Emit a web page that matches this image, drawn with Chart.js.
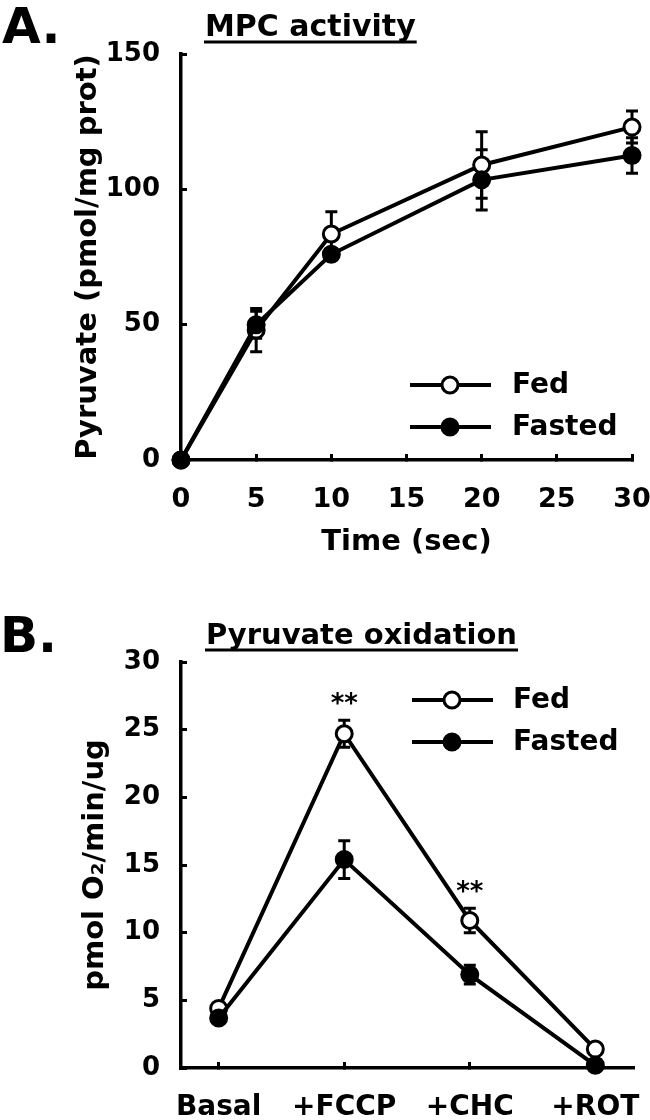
<!DOCTYPE html>
<html>
<head>
<meta charset="utf-8">
<script src="https://cdn.jsdelivr.net/npm/chart.js@4.4.1/dist/chart.umd.min.js"></script>
<style>
  html, body { margin: 0; padding: 0; background: #fff; }
  #wrap { position: relative; width: 650px; height: 1120px; overflow: hidden; background: #fff; }
  canvas { position: absolute; left: 0; display: block; }
  #cA { top: 0; }
  #cB { top: 560px; }
</style>
</head>
<body>
<div id="wrap">
  <canvas id="cA" width="650" height="560"></canvas>
  <canvas id="cB" width="650" height="560"></canvas>
</div>
<script>
// ---------- Panel A data: MPC activity ----------
const timeSec = [0, 5, 10, 20, 30];
const fedMPC = [0, 48, 83.5, 109, 123];
const fedMPCErr = [0, 8, 8.2, 12.3, 5.9];
const fastedMPC = [0, 50, 76, 103.5, 112.5];
const fastedMPCErr = [0, 5, 2, 11.1, 6.6];
const mpcYTicks = [0, 50, 100, 150];
const mpcXTicks = [0, 5, 10, 15, 20, 25, 30];

// ---------- Panel B data: Pyruvate oxidation ----------
const oxCategories = ['Basal', '+FCCP', '+CHC', '+ROT'];
const fedOx = [4.4, 24.7, 10.9, 1.4];
const fedOxErr = [0.3, 1.0, 0.9, 0.2];
const fastedOx = [3.7, 15.4, 6.9, 0.2];
const fastedOxErr = [0.3, 1.4, 0.7, 0.1];
const oxYTicks = [0, 5, 10, 15, 20, 25, 30];
const oxSignificant = [1, 2]; // indices marked "**"

const seriesLabels = ['Fed', 'Fasted'];

const FONT = "'DejaVu Sans', 'Liberation Sans', sans-serif";
Chart.defaults.font.family = FONT;
Chart.defaults.font.weight = 'bold';
Chart.defaults.color = '#000';

function pts(xs, ys) { return xs.map((x, i) => ({ x: x, y: ys[i] })); }

function dataset(label, xs, ys, filled, order) {
  return {
    label: label,
    data: pts(xs, ys),
    borderColor: '#000',
    borderWidth: 4,
    pointRadius: 8,
    pointBorderWidth: 3,
    pointBorderColor: '#000',
    pointBackgroundColor: filled ? '#000' : '#fff',
    fill: false,
    tension: 0,
    order: order,
    clip: false
  };
}

function makePlugin(p) {
  return {
    id: 'panel' + p.letter,
    beforeDatasetsDraw(chart) {
      const ctx = chart.ctx, x = chart.scales.x, y = chart.scales.y;
      ctx.save();
      ctx.strokeStyle = '#000';
      ctx.lineWidth = 3;
      p.errors.forEach(s => {
        s.values.forEach((v, i) => {
          const e = s.err[i];
          if (!e) return;
          const px = x.getPixelForValue(p.xs[i]);
          const t = y.getPixelForValue(v + e), b = y.getPixelForValue(v - e);
          ctx.beginPath();
          ctx.moveTo(px, t); ctx.lineTo(px, b);
          ctx.moveTo(px - 6, t); ctx.lineTo(px + 6, t);
          ctx.moveTo(px - 6, b); ctx.lineTo(px + 6, b);
          ctx.stroke();
        });
      });
      ctx.restore();
    },
    afterDraw(chart) {
      const ctx = chart.ctx, x = chart.scales.x, y = chart.scales.y;
      ctx.save();
      ctx.fillStyle = '#000';
      ctx.strokeStyle = '#000';
      // panel letter
      ctx.font = 'bold 50px ' + FONT;
      ctx.textAlign = 'left';
      ctx.textBaseline = 'alphabetic';
      ctx.fillText(p.letter + '.', p.letterX, p.letterY);
      // title with underline
      ctx.font = 'bold ' + p.titleSize + 'px ' + FONT;
      ctx.fillText(p.title, p.titleX, p.titleY);
      const w = ctx.measureText(p.title).width;
      ctx.lineWidth = 3;
      ctx.beginPath();
      ctx.moveTo(p.titleX - 1, p.titleY + 6);
      ctx.lineTo(p.titleX + w + 1, p.titleY + 6);
      ctx.stroke();
      // legend
      const L = p.legend;
      L.rows.forEach((ry, i) => {
        const ds = chart.data.datasets[i];
        ctx.lineWidth = 4;
        ctx.beginPath();
        ctx.moveTo(L.x1, ry); ctx.lineTo(L.x2, ry);
        ctx.stroke();
        ctx.beginPath();
        ctx.arc(L.mx, ry, 8, 0, Math.PI * 2);
        ctx.fillStyle = ds.pointBackgroundColor;
        ctx.fill();
        ctx.lineWidth = 3;
        ctx.stroke();
        ctx.fillStyle = '#000';
        ctx.font = 'bold 28px ' + FONT;
        ctx.textBaseline = 'middle';
        ctx.fillText(ds.label, L.tx, ry + 1);
      });
      // significance stars
      if (p.stars) {
        ctx.font = 'bold 26px ' + FONT;
        ctx.textAlign = 'center';
        ctx.textBaseline = 'alphabetic';
        p.stars.forEach(i => {
          const px = x.getPixelForValue(p.xs[i]);
          const top = y.getPixelForValue(p.errors[0].values[i] + p.errors[0].err[i]);
          ctx.fillText('**', px, top - 23 + 15);
        });
      }
      ctx.restore();
    }
  };
}

function axisCommon() {
  return {
    grid: { drawOnChartArea: false, drawTicks: true, tickLength: -6, lineWidth: 3, color: '#000' },
    border: { display: true, color: '#000', width: 3.5 }
  };
}

// ---------- Chart A ----------
new Chart(document.getElementById('cA'), {
  type: 'line',
  data: {
    datasets: [
      dataset(seriesLabels[0], timeSec, fedMPC, false, 2),
      dataset(seriesLabels[1], timeSec, fastedMPC, true, 1)
    ]
  },
  options: {
    responsive: false, animation: false, events: [], devicePixelRatio: 1,
    layout: { padding: { left: 0, top: 54, right: 18, bottom: 0 } },
    scales: {
      x: Object.assign(axisCommon(), {
        type: 'linear', min: 0, max: 30,
        afterBuildTicks(s) { s.ticks = mpcXTicks.map(v => ({ value: v })); },
        afterFit(s) { s.height = 100; s.paddingLeft = 0; s.paddingRight = 0; },
        ticks: { padding: 30, font: { size: 27, weight: 'bold' }, color: '#000', maxRotation: 0, autoSkip: false },
        title: { display: true, text: 'Time (sec)', color: '#000', font: { size: 29, weight: 'bold' }, padding: { top: 0, bottom: 0 } }
      }),
      y: Object.assign(axisCommon(), {
        type: 'linear', min: 0, max: 150,
        afterBuildTicks(s) { s.ticks = mpcYTicks.map(v => ({ value: v })); },
        afterFit(s) { s.width = 181; s.paddingTop = 0; s.paddingBottom = 0; },
        ticks: { padding: 27, font: { size: 26, weight: 'bold' }, color: '#000' },
        title: { display: true, text: 'Pyruvate (pmol/mg prot)', color: '#000', font: { size: 29, weight: 'bold' }, padding: { top: 71.5, bottom: 0 } }
      })
    },
    plugins: { legend: { display: false }, tooltip: { enabled: false } }
  },
  plugins: [makePlugin({
    letter: 'A', letterX: 2, letterY: 43,
    title: 'MPC activity', titleSize: 30, titleX: 205, titleY: 36,
    xs: timeSec,
    errors: [{ values: fedMPC, err: fedMPCErr }, { values: fastedMPC, err: fastedMPCErr }],
    legend: { x1: 410, x2: 491, mx: 450, tx: 512, rows: [385, 427] }
  })]
});

// ---------- Chart B ----------
const oxIdx = oxCategories.map((_, i) => i);
new Chart(document.getElementById('cB'), {
  type: 'line',
  data: {
    datasets: [
      dataset(seriesLabels[0], oxIdx, fedOx, false, 2),
      dataset(seriesLabels[1], oxIdx, fastedOx, true, 1)
    ]
  },
  options: {
    responsive: false, animation: false, events: [], devicePixelRatio: 1,
    layout: { padding: { left: 0, top: 102, right: 17, bottom: 0 } },
    scales: {
      x: Object.assign(axisCommon(), {
        type: 'linear', min: -0.3, max: 3.3,
        afterBuildTicks(s) { s.ticks = oxIdx.map(v => ({ value: v })); },
        afterFit(s) { s.height = 52; s.paddingLeft = 0; s.paddingRight = 0; },
        ticks: { padding: 29, font: { size: 28, weight: 'bold' }, color: '#000', maxRotation: 0, autoSkip: false,
                 callback: v => oxCategories[v] },
        title: { display: false }
      }),
      y: Object.assign(axisCommon(), {
        type: 'linear', min: 0, max: 30,
        afterBuildTicks(s) { s.ticks = oxYTicks.map(v => ({ value: v })); },
        afterFit(s) { s.width = 181; s.paddingTop = 0; s.paddingBottom = 0; },
        ticks: { padding: 27, font: { size: 26, weight: 'bold' }, color: '#000' },
        title: { display: true, text: 'pmol O\u2082/min/ug', color: '#000', font: { size: 29, weight: 'bold' }, padding: { top: 78, bottom: 0 } }
      })
    },
    plugins: { legend: { display: false }, tooltip: { enabled: false } }
  },
  plugins: [makePlugin({
    letter: 'B', letterX: 0, letterY: 92,
    title: 'Pyruvate oxidation', titleSize: 29, titleX: 206, titleY: 84,
    xs: oxIdx,
    errors: [{ values: fedOx, err: fedOxErr }, { values: fastedOx, err: fastedOxErr }],
    legend: { x1: 412, x2: 493, mx: 452, tx: 513, rows: [140, 182] },
    stars: oxSignificant
  })]
});
</script>
</body>
</html>
